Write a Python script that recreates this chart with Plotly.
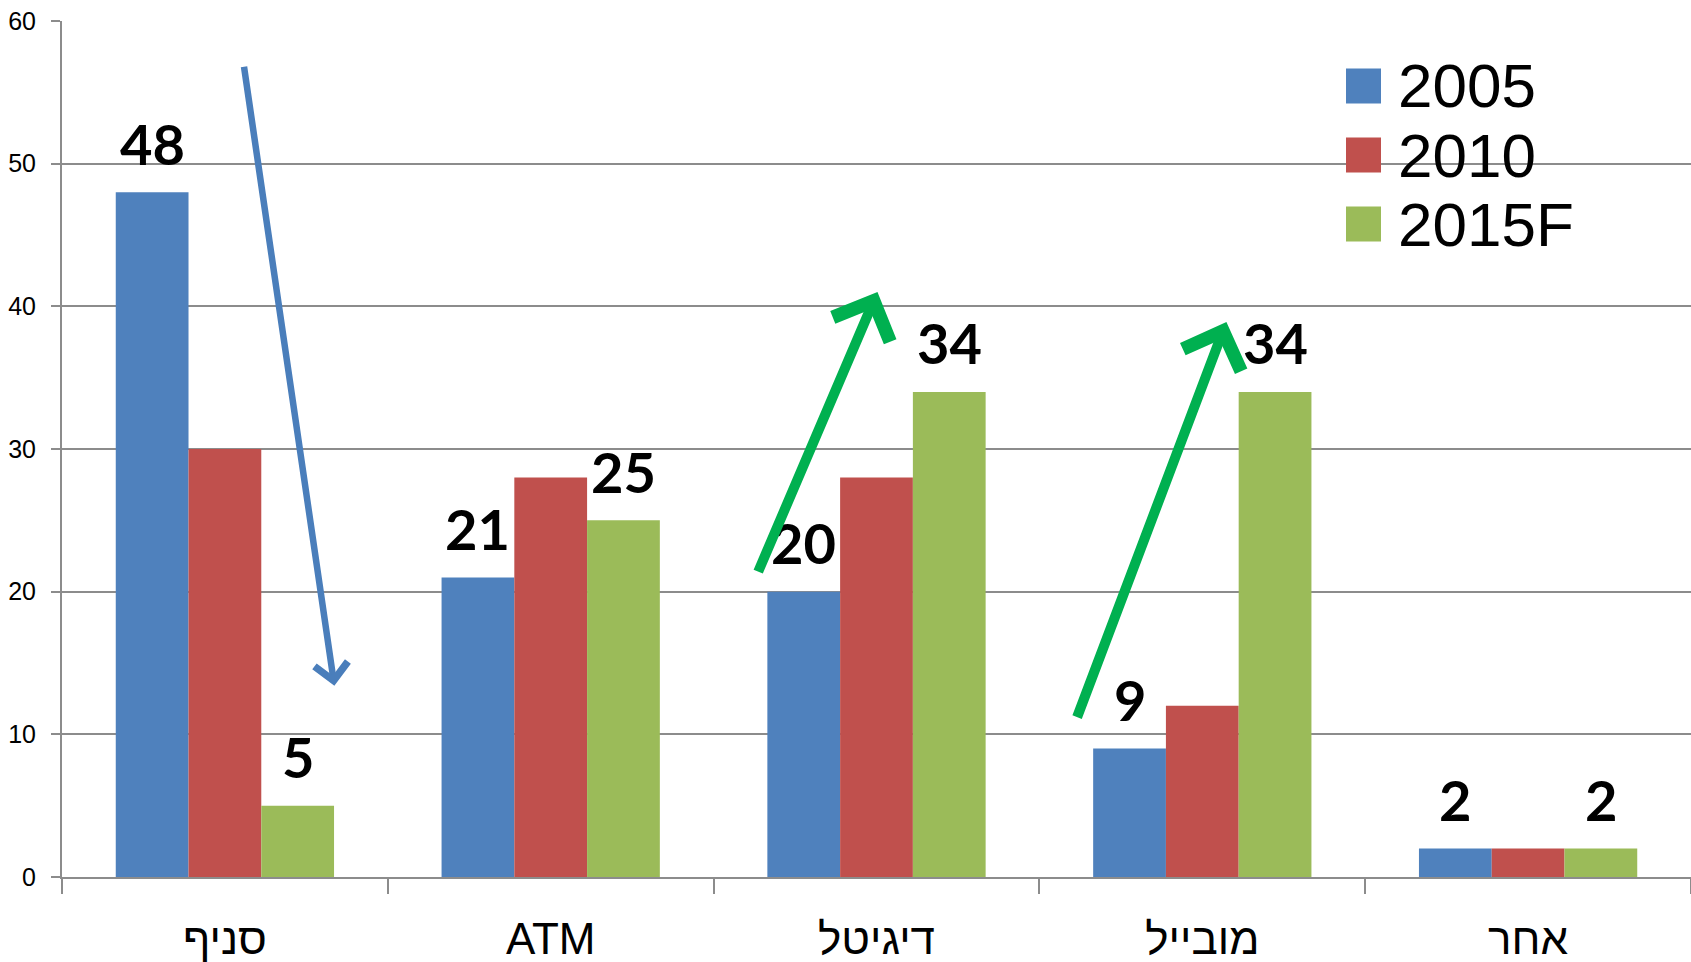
import plotly.graph_objects as go

categories = ["סניף", "ATM", "דיגיטל", "מובייל", "אחר"]
series_names = ["2005", "2010", "2015F"]
values_2005 = [48, 21, 20, 9, 2]
values_2010 = [30, 28, 28, 12, 2]
values_2015 = [5, 25, 34, 34, 2]
colors = ["#4F81BD", "#C0504D", "#9BBB59"]
labeled_series = {"2005": values_2005, "2015F": values_2015}

W, H = 1691, 962
ML, MR, MT, MB = 62, 0, 21, 85
PW, PH = W - ML - MR, H - MT - MB
BARGAP = 0.33


def px_x(px):
    return (px - ML) / PW


def px_y(py):
    return (H - MB - py) / PH


fig = go.Figure()
for name, vals, col in zip(series_names, [values_2005, values_2010, values_2015], colors):
    fig.add_trace(go.Bar(x=categories, y=vals, name=name, marker_color=col,
                         marker_line_width=0, showlegend=False))

annotations = []
offset = (1 - BARGAP) / 3
for name, vals in labeled_series.items():
    sign = -1 if name == "2005" else 1
    for i, v in enumerate(vals):
        annotations.append(dict(x=i + sign * offset, y=v, xref="x", yref="y",
                                text=str(v), showarrow=False, yanchor="middle",
                                yshift=49,
                                font=dict(family="Lato, Liberation Sans, Arial", size=56,
                                          color="black", weight="bold")))

# trend arrows (data coordinates: category index, value)
arrows = [
    dict(tail=(0.058, 56.9), head=(0.336, 13.4), color="#4A7EBB", width=6.5, size=1.0),
    dict(tail=(1.635, 21.3), head=(2.003, 41.0), color="#00B050", width=10, size=1.2),
    dict(tail=(2.614, 11.1), head=(3.074, 38.9), color="#00B050", width=10, size=1.2),
]
for a in arrows:
    annotations.append(dict(x=a["head"][0], y=a["head"][1], ax=a["tail"][0], ay=a["tail"][1],
                            xref="x", yref="y", axref="x", ayref="y", text="",
                            showarrow=True, arrowhead=4, arrowwidth=a["width"],
                            arrowsize=a["size"], arrowcolor=a["color"], standoff=0))

# manual legend
shapes = []
row_y = [86, 155, 224]
for name, col, ry in zip(series_names, colors, row_y):
    shapes.append(dict(type="rect", xref="paper", yref="paper",
                       x0=px_x(1346), x1=px_x(1381), y0=px_y(ry + 17.5), y1=px_y(ry - 17.5),
                       fillcolor=col, line_width=0))
    annotations.append(dict(x=px_x(1396), y=px_y(ry), xref="paper", yref="paper",
                            text=name, showarrow=False, xanchor="left", yanchor="middle",
                            font=dict(family="Liberation Sans, Arial", size=62, color="black")))

fig.update_layout(
    width=W, height=H,
    margin=dict(l=ML, r=MR, t=MT, b=MB, pad=0),
    paper_bgcolor="white", plot_bgcolor="white",
    barmode="group", bargap=BARGAP, bargroupgap=0,
    annotations=annotations, shapes=shapes,
    showlegend=False,
)
fig.update_xaxes(
    type="category", showgrid=False, showline=True, linecolor="#8C8C8C", linewidth=2,
    ticks="outside", tickson="boundaries", ticklen=15, tickcolor="#8C8C8C", tickwidth=2,
    tickfont=dict(family="Liberation Sans, Arial", size=44, color="black"),
    ticklabelstandoff=22,
)
fig.update_yaxes(
    range=[0, 60], dtick=10, showgrid=True, gridcolor="#8C8C8C", gridwidth=1.5,
    showline=True, linecolor="#8C8C8C", linewidth=2, zeroline=False,
    ticks="outside", ticklen=9, tickcolor="#8C8C8C", tickwidth=2,
    tickfont=dict(family="Liberation Sans, Arial", size=25, color="black"),
    ticklabelstandoff=10,
)

fig.write_html("out.html", config={"displayModeBar": False},
               post_script="document.body.style.margin='0';")
